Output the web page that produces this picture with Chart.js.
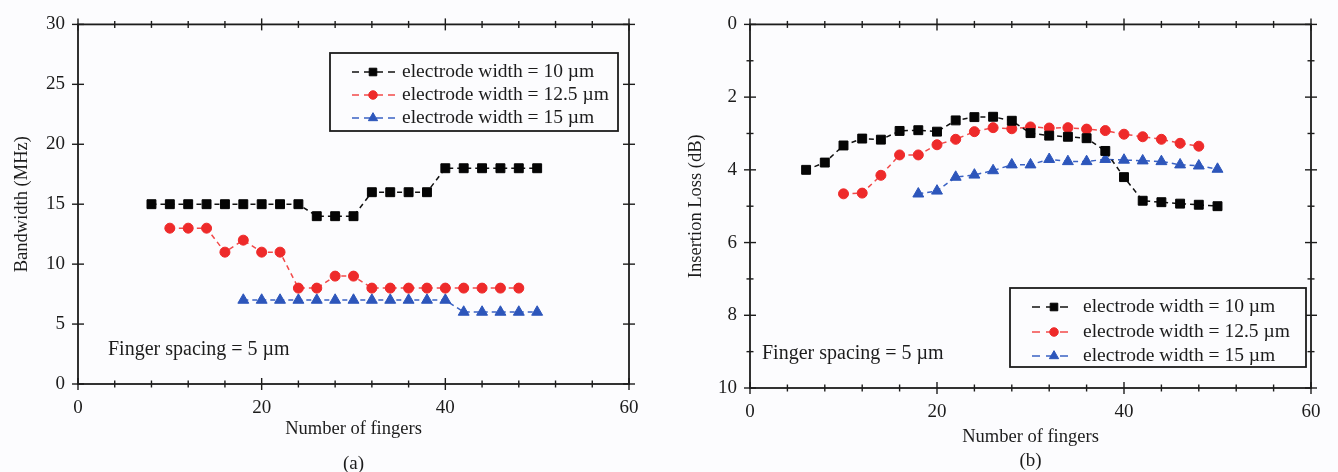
<!DOCTYPE html>
<html>
<head>
<meta charset="utf-8">
<script src="https://cdn.jsdelivr.net/npm/chart.js@4.4.1/dist/chart.umd.min.js"></script>
<style>
  html, body { margin: 0; padding: 0; background: #fcfcfe; }
  #wrap { position: relative; width: 1338px; height: 472px; }
  .pane { position: absolute; top: 0; width: 669px; height: 472px; }
  #paneA { left: 0; }
  #paneB { left: 669px; }
</style>
</head>
<body>
<div id="wrap">
  <div class="pane" id="paneA"><canvas id="bandwidthChart" width="669" height="472"></canvas></div>
  <div class="pane" id="paneB"><canvas id="lossChart" width="669" height="472"></canvas></div>
</div>
<script>
// (a) bandwidth vs number of fingers
const bwFingers10 = [8, 10, 12, 14, 16, 18, 20, 22, 24, 26, 28, 30, 32, 34, 36, 38, 40, 42, 44, 46, 48, 50];
const bw10 = [15, 15, 15, 15, 15, 15, 15, 15, 15, 14, 14, 14, 16, 16, 16, 16, 18, 18, 18, 18, 18, 18];
const bwFingers125 = [10, 12, 14, 16, 18, 20, 22, 24, 26, 28, 30, 32, 34, 36, 38, 40, 42, 44, 46, 48];
const bw125 = [13, 13, 13, 11, 12, 11, 11, 8, 8, 9, 9, 8, 8, 8, 8, 8, 8, 8, 8, 8];
const bwFingers15 = [18, 20, 22, 24, 26, 28, 30, 32, 34, 36, 38, 40, 42, 44, 46, 48, 50];
const bw15 = [7, 7, 7, 7, 7, 7, 7, 7, 7, 7, 7, 7, 6, 6, 6, 6, 6];

// (b) insertion loss vs number of fingers
const ilFingers10 = [6, 8, 10, 12, 14, 16, 18, 20, 22, 24, 26, 28, 30, 32, 34, 36, 38, 40, 42, 44, 46, 48, 50];
const il10 = [4.0, 3.8, 3.33, 3.14, 3.17, 2.93, 2.91, 2.95, 2.64, 2.55, 2.54, 2.65, 2.99, 3.06, 3.09, 3.13, 3.48, 4.2, 4.85, 4.89, 4.93, 4.96, 5.0];
const ilFingers125 = [10, 12, 14, 16, 18, 20, 22, 24, 26, 28, 30, 32, 34, 36, 38, 40, 42, 44, 46, 48];
const il125 = [4.66, 4.64, 4.15, 3.59, 3.59, 3.31, 3.16, 2.95, 2.84, 2.87, 2.82, 2.85, 2.84, 2.88, 2.92, 3.02, 3.09, 3.16, 3.27, 3.35];
const ilFingers15 = [18, 20, 22, 24, 26, 28, 30, 32, 34, 36, 38, 40, 42, 44, 46, 48, 50];
const il15 = [4.66, 4.58, 4.2, 4.14, 4.02, 3.86, 3.86, 3.71, 3.77, 3.77, 3.71, 3.73, 3.75, 3.77, 3.86, 3.89, 3.98];

const seriesLabels = ["electrode width = 10 µm", "electrode width = 12.5 µm", "electrode width = 15 µm"];

// axis ticks
const fingerTicks = [0, 20, 40, 60];
const fingerMinorTicks = [0, 4, 8, 12, 16, 20, 24, 28, 32, 36, 40, 44, 48, 52, 56, 60];
const bwTicks = [0, 5, 10, 15, 20, 25, 30];
const ilTicks = [0, 2, 4, 6, 8, 10];
const ilMinorTicks = [0, 1, 2, 3, 4, 5, 6, 7, 8, 9, 10];

const SERIF = '"Liberation Serif", "DejaVu Serif", serif';
const INK = "#1c1c1c";

function pairs(xs, ys) {
  return xs.map((x, i) => ({ x: x, y: ys[i] }));
}

function makeDatasets(f10, v10, f125, v125, f15, v15) {
  return [
    {
      label: seriesLabels[0],
      data: pairs(f10, v10),
      borderColor: "#111111",
      pointBackgroundColor: "#050505",
      pointBorderColor: "#050505",
      pointStyle: "rect",
      pointRadius: 6.3,
    },
    {
      label: seriesLabels[1],
      data: pairs(f125, v125),
      borderColor: "#f24a4a",
      pointBackgroundColor: "#ee2a2a",
      pointBorderColor: "#ee2a2a",
      pointStyle: "circle",
      pointRadius: 5,
    },
    {
      label: seriesLabels[2],
      data: pairs(f15, v15),
      borderColor: "#3a62c4",
      pointBackgroundColor: "#2d56bb",
      pointBorderColor: "#2d56bb",
      pointStyle: "triangle",
      pointRadius: 6.3,
    },
  ].map((d) => Object.assign(d, {
    showLine: true,
    borderWidth: 1.5,
    borderDash: [5, 4],
    pointBorderWidth: 1,
    pointHoverRadius: d.pointRadius,
    tension: 0,
  }));
}

// frame around the plot with ticks crossing all four sides
const frameTicks = {
  id: "frameTicks",
  afterDatasetsDraw(chart, args, o) {
    const { ctx, chartArea: a, scales: { x, y } } = chart;
    ctx.save();
    ctx.strokeStyle = INK;
    ctx.lineWidth = 1.8;
    ctx.strokeRect(a.left, a.top, a.right - a.left, a.bottom - a.top);
    ctx.lineWidth = 1.4;
    const seg = (x0, y0, x1, y1) => {
      ctx.beginPath();
      ctx.moveTo(x0, y0);
      ctx.lineTo(x1, y1);
      ctx.stroke();
    };
    o.xMinor.forEach((v) => {
      const px = x.getPixelForValue(v);
      const len = o.xMajor.includes(v) ? 6 : 3.5;
      seg(px, a.top - len, px, a.top + len);
      seg(px, a.bottom - len, px, a.bottom + len);
    });
    o.yMinor.forEach((v) => {
      const py = y.getPixelForValue(v);
      const len = o.yMajor.includes(v) ? 6 : 3.5;
      seg(a.left - len, py, a.left + len, py);
      seg(a.right - len, py, a.right + len, py);
    });
    ctx.restore();
  },
};

// boxed legend, spacing note and panel caption
const panelText = {
  id: "panelText",
  afterDraw(chart, args, o) {
    const { ctx, chartArea: a } = chart;
    ctx.save();
    ctx.textBaseline = "middle";

    const b = o.box;
    ctx.strokeStyle = INK;
    ctx.lineWidth = 1.8;
    ctx.fillStyle = "#fcfcfe";
    ctx.fillRect(b.x, b.y, b.w, b.h);
    ctx.strokeRect(b.x, b.y, b.w, b.h);

    ctx.font = o.fontSize + "px " + SERIF;
    chart.data.datasets.forEach((ds, i) => {
      const ly = o.rows[i];
      ctx.save();
      ctx.strokeStyle = ds.borderColor;
      ctx.lineWidth = ds.borderWidth;
      ctx.setLineDash(o.sampleDash);
      ctx.beginPath();
      ctx.moveTo(o.sampleX[0], ly);
      ctx.lineTo(o.sampleX[1], ly);
      ctx.stroke();
      ctx.restore();

      ctx.save();
      ctx.fillStyle = ds.pointBackgroundColor;
      ctx.strokeStyle = ds.pointBorderColor;
      ctx.lineWidth = 1;
      Chart.helpers.drawPoint(ctx, {
        pointStyle: ds.pointStyle,
        radius: ds.pointRadius * 0.85,
        rotation: 0,
        borderWidth: 1,
      }, o.markerX, ly);
      ctx.restore();

      ctx.fillStyle = INK;
      ctx.textAlign = "left";
      ctx.fillText(ds.label, o.textX, ly);
    });

    ctx.font = "20px " + SERIF;
    ctx.fillStyle = INK;
    ctx.textAlign = "left";
    ctx.fillText(o.note, o.noteX, o.noteY);
    ctx.font = "19px " + SERIF;
    ctx.textAlign = "center";
    ctx.fillText(o.caption, (a.left + a.right) / 2, o.captionY);
    ctx.restore();
  },
};

function makeChart(canvasId, cfg) {
  return new Chart(document.getElementById(canvasId), {
    type: "scatter",
    data: { datasets: cfg.datasets },
    options: {
      responsive: false,
      animation: false,
      events: [],
      layout: { padding: cfg.padding },
      scales: {
        x: {
          type: "linear",
          min: 0,
          max: 60,
          border: { display: false },
          grid: { display: false, drawTicks: false },
          afterBuildTicks: (s) => { s.ticks = fingerTicks.map((v) => ({ value: v })); },
          afterFit: (s) => { s.height = cfg.xHeight; },
          ticks: { color: INK, padding: 13, font: { family: SERIF, size: 19 } },
          title: {
            display: true,
            text: "Number of fingers",
            color: INK,
            padding: 0,
            font: { family: SERIF, size: 18.5 },
          },
        },
        y: {
          type: "linear",
          min: cfg.yMin,
          max: cfg.yMax,
          reverse: cfg.reverse,
          border: { display: false },
          grid: { display: false, drawTicks: false },
          afterBuildTicks: (s) => { s.ticks = cfg.yTicks.map((v) => ({ value: v })); },
          afterFit: (s) => { s.width = cfg.yWidth; },
          ticks: { color: INK, padding: 13, font: { family: SERIF, size: 19 } },
          title: {
            display: true,
            text: cfg.yTitle,
            color: INK,
            padding: { top: cfg.yTitlePad, bottom: 0 },
            font: { family: SERIF, size: 18.5 },
          },
        },
      },
      plugins: {
        legend: { display: false },
        tooltip: { enabled: false },
        frameTicks: {
          xMinor: fingerMinorTicks,
          xMajor: fingerTicks,
          yMinor: cfg.yMinor,
          yMajor: cfg.yTicks,
        },
        panelText: cfg.text,
      },
    },
    plugins: [frameTicks, panelText],
  });
}

makeChart("bandwidthChart", {
  datasets: makeDatasets(bwFingers10, bw10, bwFingers125, bw125, bwFingers15, bw15),
  padding: { left: 0, right: 40, top: 18, bottom: 32 },
  xHeight: 56,
  yWidth: 78,
  yMin: 0,
  yMax: 30,
  reverse: false,
  yTicks: bwTicks,
  yMinor: bwTicks,
  yTitle: "Bandwidth (MHz)",
  yTitlePad: 11,
  text: {
    box: { x: 330, y: 53, w: 288, h: 78 },
    rows: [72, 95, 118],
    fontSize: 19.5,
    sampleX: [352, 398],
    sampleDash: [7, 5],
    markerX: 373,
    textX: 402,
    note: "Finger spacing = 5 µm",
    noteX: 108,
    noteY: 350,
    caption: "(a)",
    captionY: 464,
  },
});

makeChart("lossChart", {
  datasets: makeDatasets(ilFingers10, il10, ilFingers125, il125, ilFingers15, il15),
  padding: { left: 0, right: 27, top: 14, bottom: 24 },
  xHeight: 60,
  yWidth: 81,
  yMin: 0,
  yMax: 10,
  reverse: true,
  yTicks: ilTicks,
  yMinor: ilMinorTicks,
  yTitle: "Insertion Loss (dB)",
  yTitlePad: 16,
  text: {
    box: { x: 341, y: 288, w: 296, h: 79 },
    rows: [307, 332, 356],
    fontSize: 19.5,
    sampleX: [363, 403],
    sampleDash: [8, 6],
    markerX: 385,
    textX: 414,
    note: "Finger spacing = 5 µm",
    noteX: 93,
    noteY: 354,
    caption: "(b)",
    captionY: 461,
  },
});
</script>
</body>
</html>
